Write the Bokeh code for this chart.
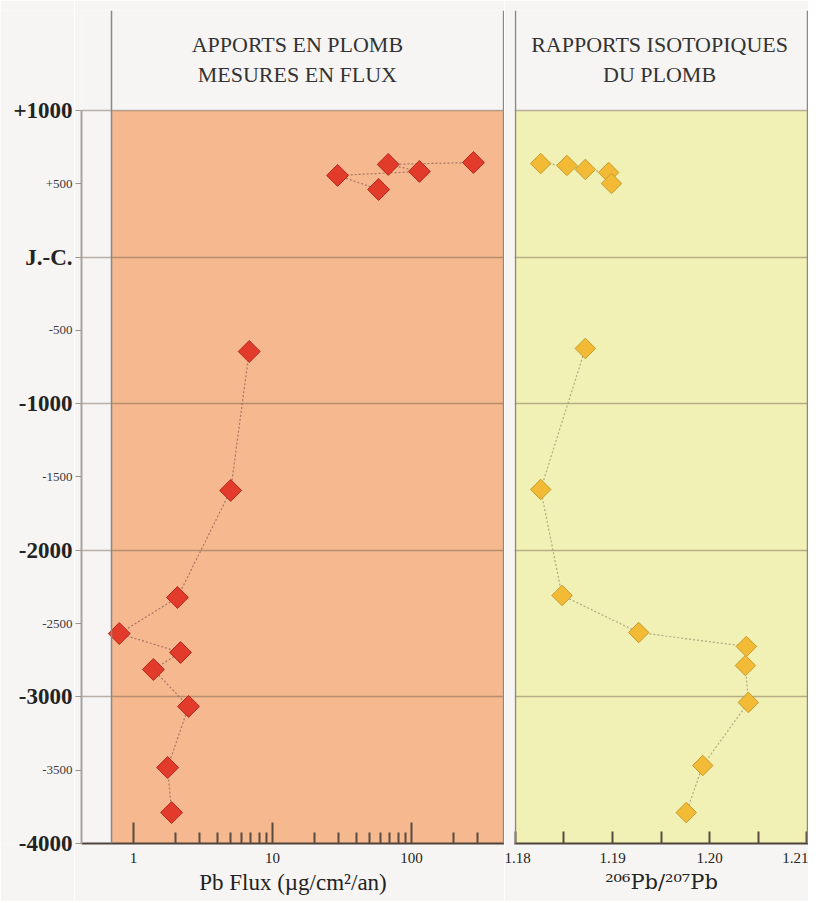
import math
from bokeh.plotting import figure
from bokeh.layouts import row
from bokeh.models import (Range1d, FixedTicker, BoxAnnotation, Span, Label,
                          PrintfTickFormatter, BasicTickFormatter)
from bokeh.core.properties import value
from bokeh.embed import file_html
from bokeh.resources import INLINE

# ---------------- data ----------------
flux_age = [645, 632, 584, 557, 461, -644, -1592, -2322, -2568, -2697, -2813, -3065, -3482, -3789]
flux = [279, 68, 114, 29.4, 58, 6.8, 5.0, 2.07, 0.79, 2.18, 1.39, 2.49, 1.76, 1.88]

ratio_age = [638, 625, 598, 577, 502, -623, -1585, -2308, -2561, -2656, -2786, -3038, -3468, -3789]
ratio = [1.1826, 1.1853, 1.1872, 1.1896, 1.1899, 1.1872, 1.1826, 1.1848, 1.1927, 1.2038,
         1.2037, 1.2040, 1.1993, 1.1976]

major_years = [1000, 0, -1000, -2000, -3000, -4000]
major_labels = ["+1000", "J.-C.", "-1000", "-2000", "-3000", "-4000"]
minor_years = [500, -500, -1500, -2500, -3500]
minor_labels = ["+500", "-500", "-1500", "-2500", "-3500"]
grid_years = [1000, 0, -1000, -2000, -3000]

flux_major = [1, 10, 100]
flux_major_labels = ["1", "10", "100"]
flux_minor = [2, 3, 4, 5, 6, 7, 8, 9, 20, 30, 40, 50, 60, 70, 80, 90, 200, 300]

ratio_major = [1.18, 1.19, 1.20, 1.21]
ratio_minor = [1.185, 1.195, 1.205]

title_left = ["APPORTS EN PLOMB", "MESURES EN FLUX"]
title_right = ["RAPPORTS ISOTOPIQUES", "DU PLOMB"]
xlabel_left = "Pb Flux (µg/cm²/an)"
xlabel_right = "²⁰⁶Pb/²⁰⁷Pb"

# ---------------- styles ----------------
SERIF = "Liberation Serif"
PAGE = "#f6f5f4"
ORANGE = "#f5b88f"
YELLOW = "#f2f1b5"
GRID = "#6b5a4c"
BORDER = "#8d8782"
TEXT = "#232323"

H = 901
TOP, BOTTOM = 10, 58
Y_LO, Y_TOP = -4000, 1682
FLUX_LO, FLUX_HI = 0.4225, 466.9
FLUX_PANEL_LEFT = 0.6946
GAP = 5  # trace interrupted here (erased segment in the source figure)
W0 = 74  # width of the label strip left of the age axis

y_range = Range1d(Y_LO, Y_TOP)


def base_fig(**kw):
    p = figure(height=H, output_backend="svg", toolbar_location=None,
               y_range=y_range, min_border_top=TOP, min_border_bottom=BOTTOM, **kw)
    p.outline_line_color = None
    p.background_fill_color = PAGE
    p.border_fill_color = PAGE
    p.xgrid.visible = False
    p.ygrid.ticker = FixedTicker(ticks=grid_years)
    p.ygrid.grid_line_color = GRID
    p.ygrid.grid_line_alpha = 0.45
    p.ygrid.grid_line_width = 1.3
    return p


def style_xaxis(ax, label, font=SERIF, size="23px"):
    ax.axis_label = label
    ax.axis_label_text_font = font
    ax.axis_label_text_font_size = size
    ax.axis_label_text_font_style = "normal"
    ax.axis_label_text_color = TEXT
    ax.axis_label_standoff = 4
    ax.major_label_text_font = SERIF
    ax.major_label_text_font_size = "15px"
    ax.major_label_text_color = TEXT
    ax.major_label_standoff = 9
    ax.axis_line_color = "#4f433a"
    ax.axis_line_width = 2
    ax.major_tick_out = 0
    ax.minor_tick_out = 0
    ax.major_tick_line_color = "#5a4a40"
    ax.minor_tick_line_color = "#5a4a40"
    ax.major_tick_line_width = 2
    ax.minor_tick_line_width = 2


# ---------------- age label strip ----------------
p0 = figure(width=W0, height=H, output_backend="svg", toolbar_location=None,
            x_range=Range1d(0, W0), y_range=y_range,
            x_axis_location=None, y_axis_location=None,
            min_border_left=0, min_border_right=0, min_border_top=TOP, min_border_bottom=BOTTOM)
p0.outline_line_color = None
p0.background_fill_color = PAGE
p0.border_fill_color = PAGE
p0.grid.visible = False
p0.text(x=[W0] * len(major_years), y=major_years, text=major_labels, x_offset=-2,
        text_align="right", text_baseline="middle", text_font=value(SERIF),
        text_font_size="23px", text_font_style="bold", text_color=TEXT, level="overlay")
p0.text(x=[W0] * len(minor_years), y=minor_years, text=minor_labels, x_offset=-2,
        text_align="right", text_baseline="middle", text_font=value(SERIF),
        text_font_size="13px", text_color="#3a3a3a", level="overlay")

# ---------------- left panel ----------------
p1 = base_fig(width=504 - W0, x_axis_type="log", x_range=Range1d(FLUX_LO, FLUX_HI),
              min_border_left=81 - W0, min_border_right=0)
p1.add_layout(BoxAnnotation(left=FLUX_PANEL_LEFT, top=1000, fill_color=ORANGE, fill_alpha=1,
                            line_color=None, level="image"))
for loc in [FLUX_PANEL_LEFT, 460]:
    p1.add_layout(Span(location=loc, dimension="height", line_color=BORDER, line_width=1.5))

ya = p1.yaxis[0]
ya.ticker = FixedTicker(ticks=major_years, minor_ticks=minor_years)
ya.bounds = (-4000, 1000)
ya.major_label_overrides = {y: "" for y in major_years}
ya.major_label_standoff = 0
ya.major_tick_in = 0
ya.major_tick_out = 6
ya.minor_tick_in = 0
ya.minor_tick_out = 6
ya.major_tick_line_color = "#9a948f"
ya.minor_tick_line_color = "#9a948f"
ya.axis_line_color = "#a9a39e"
ya.axis_line_width = 2

xa = p1.xaxis[0]
xa.ticker = FixedTicker(ticks=flux_major, minor_ticks=flux_minor)
xa.formatter = BasicTickFormatter()
xa.major_label_overrides = {v: t for v, t in zip(flux_major, flux_major_labels)}
xa.major_tick_in = 21
xa.minor_tick_in = 11
style_xaxis(xa, xlabel_left)

p1.line(flux[:GAP], flux_age[:GAP], line_color="#9a6a5e", line_dash="2 2", line_width=1.2, line_alpha=0.85)
p1.line(flux[GAP:], flux_age[GAP:], line_color="#9a6a5e", line_dash="2 2", line_width=1.2, line_alpha=0.85)
p1.scatter(flux, flux_age, marker="square", angle=math.pi / 4, size=15.5,
           fill_color="#e23a2b", line_color="#b42a1e", line_width=1)

for t, y in zip(title_left, [1450, 1246]):
    p1.add_layout(Label(x=15.1, y=y, text=t, text_align="center", text_baseline="middle",
                        text_font=SERIF, text_font_size="22px", text_color="#333333"))

# ---------------- right panel ----------------
p2 = base_fig(width=304, x_range=Range1d(1.1799, 1.2102), y_axis_location=None,
              min_border_left=10, min_border_right=0)
p2.add_layout(BoxAnnotation(left=1.18, top=1000, fill_color=YELLOW, fill_alpha=1,
                            line_color=None, level="image"))
for loc in [1.18, 1.2101]:
    p2.add_layout(Span(location=loc, dimension="height", line_color=BORDER, line_width=1.5))

xb = p2.xaxis[0]
xb.ticker = FixedTicker(ticks=ratio_major, minor_ticks=ratio_minor)
xb.formatter = PrintfTickFormatter(format="%.2f")
xb.major_tick_in = 12
xb.minor_tick_in = 12
style_xaxis(xb, xlabel_right, font="DejaVu Serif", size="21px")

p2.line(ratio[:GAP], ratio_age[:GAP], line_color="#a39b78", line_dash="2 2", line_width=1.2, line_alpha=0.85)
p2.line(ratio[GAP:], ratio_age[GAP:], line_color="#a39b78", line_dash="2 2", line_width=1.2, line_alpha=0.85)
p2.scatter(ratio, ratio_age, marker="square", angle=math.pi / 4, size=14.5,
           fill_color="#f3bb35", line_color="#c39a2e", line_width=1)

for t, y in zip(title_right, [1450, 1246]):
    p2.add_layout(Label(x=1.19485, y=y, text=t, text_align="center", text_baseline="middle",
                        text_font=SERIF, text_font_size="22px", text_color="#333333"))

layout = row(p0, p1, p2, spacing=0)
open("out.html", "w").write(file_html(layout, INLINE))
